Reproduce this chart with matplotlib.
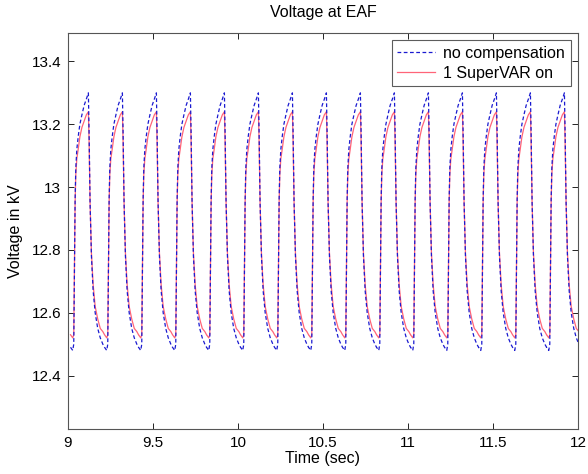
import matplotlib

matplotlib.use("Agg")
import matplotlib.pyplot as plt  # noqa: E402
import numpy as np  # noqa: E402

plt.rcParams["font.family"] = ["Liberation Sans", "DejaVu Sans"]

# peak times of the 15 flicker cycles (s)
peak_times = [9.12, 9.32, 9.52, 9.72, 9.92, 10.12, 10.32, 10.52,
              10.72, 10.92, 11.12, 11.32, 11.52, 11.72, 11.92]

# one cycle, offsets from the peak (s) and voltages (kV)
cycle_dt = [-0.105, -0.092, -0.086, -0.082, -0.078, -0.074, -0.068,
            -0.060, -0.050, -0.038, -0.025, -0.012, 0.000, 0.004,
            0.010, 0.018, 0.028, 0.040, 0.055, 0.070, 0.085, 0.095]
v_nocomp = [12.49, 12.48, 12.50, 12.72, 12.96, 13.06, 13.12,
            13.16, 13.20, 13.23, 13.26, 13.28, 13.30, 13.18,
            12.95, 12.78, 12.67, 12.60, 12.55, 12.52, 12.50, 12.49]
v_svar = [12.53, 12.52, 12.53, 12.74, 12.95, 13.04, 13.09,
          13.12, 13.16, 13.19, 13.21, 13.23, 13.24, 13.15,
          12.95, 12.79, 12.69, 12.62, 12.58, 12.55, 12.54, 12.53]

x_ticks = [9, 9.5, 10, 10.5, 11, 11.5, 12]
y_ticks = [12.4, 12.6, 12.8, 13.0, 13.2, 13.4]
y_ticklabels = ["12.4", "12.6", "12.8", "13", "13.2", "13.4"]


def build(shape):
    t = np.concatenate([np.array(cycle_dt) + p for p in peak_times])
    v = np.concatenate([shape for _ in peak_times])
    return t, v


fig = plt.figure(figsize=(5.88, 4.74), dpi=100)
ax = fig.add_axes([0.1156, 0.095, 0.8674, 0.835])

t_b, v_b = build(v_nocomp)
t_r, v_r = build(v_svar)
ax.plot(t_r, v_r, color="#ff6478", linewidth=0.9, label="1 SuperVAR on", zorder=2)
ax.plot(t_b, v_b, color="#1a1ad0", linewidth=0.9, linestyle=(0, (3, 2)),
        label="no compensation", zorder=3)

ax.set_xlim(9, 12)
ax.set_ylim(12.23, 13.49)
ax.set_xticks(x_ticks)
ax.set_xticklabels(["9", "9.5", "10", "10.5", "11", "11.5", "12"])
ax.set_yticks(y_ticks)
ax.set_yticklabels(y_ticklabels)
ax.tick_params(direction="in", length=4, width=0.6, top=True, right=True,
               labelsize=11, pad=5)
for s in ax.spines.values():
    s.set_linewidth(0.8)
    s.set_color("#555555")

ax.set_title("Voltage at EAF", fontsize=11.5, pad=12)
ax.set_xlabel("Time (sec)", fontsize=11.5, labelpad=1)
ax.set_ylabel("Voltage in kV", fontsize=11.5, labelpad=6)

h, l = ax.get_legend_handles_labels()
leg = ax.legend(h[::-1], l[::-1], loc="upper right", fontsize=11.5,
                frameon=True, fancybox=False, borderaxespad=0.45,
                handlelength=2.4, handletextpad=0.5, borderpad=0.35,
                labelspacing=0.3)
leg.get_frame().set_edgecolor("#333333")
leg.get_frame().set_linewidth(0.8)

fig.savefig("out.png", dpi=100)
plt.close(fig)
